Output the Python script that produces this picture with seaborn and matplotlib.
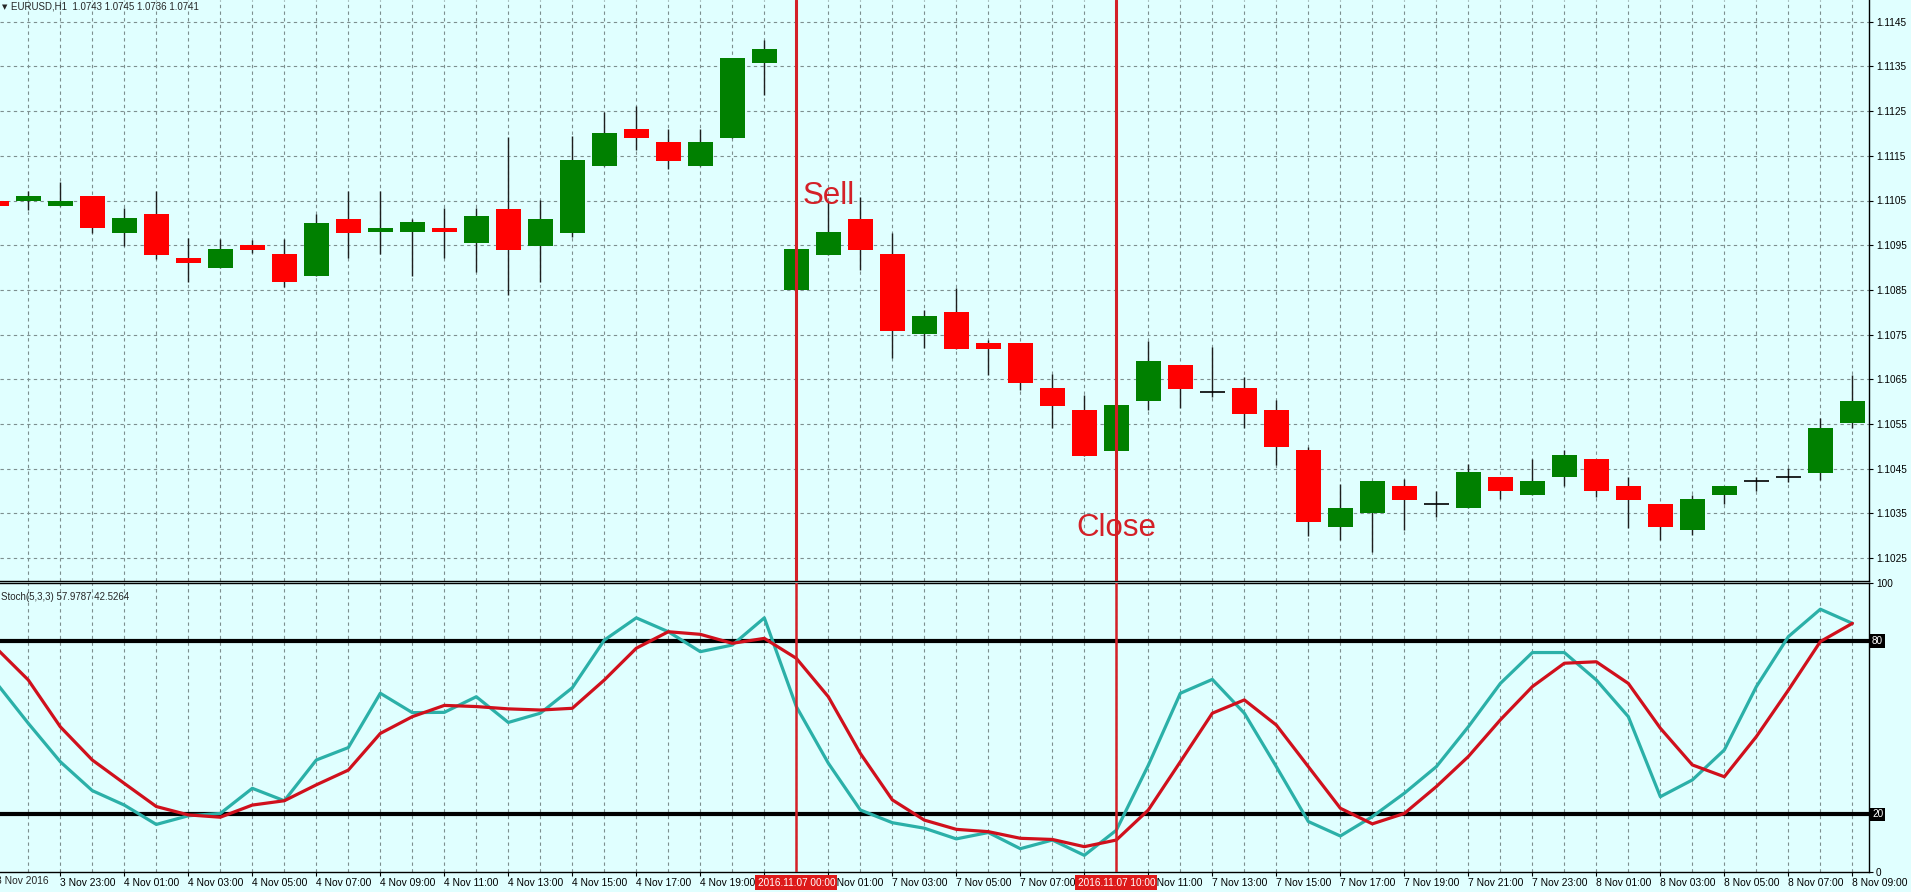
import numpy as np
import pandas as pd
import matplotlib
matplotlib.use("Agg")
import matplotlib.pyplot as plt
import matplotlib.transforms as mtransforms
from matplotlib.ticker import MultipleLocator
import seaborn as sns

# bar index: 0 = 3 Nov 23:00, 22 = 4 Nov 21:00, 23 = 7 Nov 00:00, 56 = 8 Nov 09:00
bars = list(range(-2, 57))

opens = [1.11050, 1.11050, 1.11038, 1.11060, 1.10978, 1.11020, 1.10921, 1.10900, 1.10950, 1.10930,
         1.10880, 1.11009, 1.10979, 1.10979, 1.10989, 1.10955, 1.11031, 1.10949, 1.10978, 1.11128,
         1.11210, 1.11180, 1.11128, 1.11189, 1.11358, 1.10850, 1.10928, 1.11009, 1.10930, 1.10751,
         1.10801, 1.10732, 1.10731, 1.10630, 1.10581, 1.10490, 1.10601, 1.10682, 1.10621, 1.10630,
         1.10581, 1.10491, 1.10320, 1.10350, 1.10411, 1.10371, 1.10361, 1.10432, 1.10391, 1.10431,
         1.10472, 1.10411, 1.10371, 1.10312, 1.10391, 1.10422, 1.10431, 1.10441, 1.10552]
highs = [1.11055, 1.11072, 1.11091, 1.11060, 1.11034, 1.11072, 1.10965, 1.10963, 1.10962, 1.10963,
         1.11020, 1.11072, 1.11072, 1.11009, 1.11033, 1.11033, 1.11191, 1.11051, 1.11194, 1.11249,
         1.11261, 1.11211, 1.11210, 1.11368, 1.11409, 1.10945, 1.11047, 1.11058, 1.10977, 1.10805,
         1.10854, 1.10738, 1.10731, 1.10661, 1.10615, 1.10592, 1.10736, 1.10682, 1.10723, 1.10656,
         1.10604, 1.10499, 1.10416, 1.10422, 1.10426, 1.10401, 1.10461, 1.10432, 1.10471, 1.10492,
         1.10472, 1.10431, 1.10371, 1.10391, 1.10411, 1.10431, 1.10451, 1.10563, 1.10660]
lows = [1.11035, 1.11029, 1.11038, 1.10978, 1.10948, 1.10919, 1.10867, 1.10900, 1.10932, 1.10856,
        1.10880, 1.10921, 1.10930, 1.10880, 1.10921, 1.10890, 1.10838, 1.10867, 1.10969, 1.11128,
        1.11163, 1.11120, 1.11128, 1.11189, 1.11286, 1.10848, 1.10928, 1.10894, 1.10697, 1.10719,
        1.10718, 1.10660, 1.10626, 1.10540, 1.10479, 1.10490, 1.10581, 1.10585, 1.10610, 1.10540,
        1.10458, 1.10299, 1.10290, 1.10264, 1.10313, 1.10341, 1.10361, 1.10382, 1.10391, 1.10411,
        1.10387, 1.10317, 1.10290, 1.10301, 1.10371, 1.10401, 1.10421, 1.10425, 1.10541]
closes = [1.11038, 1.11060, 1.11050, 1.10989, 1.11010, 1.10928, 1.10910, 1.10941, 1.10939, 1.10868,
          1.11000, 1.10978, 1.10989, 1.11001, 1.10979, 1.11015, 1.10939, 1.11009, 1.11141, 1.11200,
          1.11189, 1.11139, 1.11180, 1.11368, 1.11389, 1.10941, 1.10980, 1.10939, 1.10759, 1.10792,
          1.10718, 1.10718, 1.10641, 1.10591, 1.10479, 1.10592, 1.10691, 1.10629, 1.10621, 1.10572,
          1.10499, 1.10330, 1.10361, 1.10422, 1.10381, 1.10371, 1.10442, 1.10401, 1.10422, 1.10481,
          1.10401, 1.10381, 1.10320, 1.10382, 1.10411, 1.10422, 1.10431, 1.10541, 1.10601]

stoch_main = [65.5, 51.5, 38.2, 28.2, 23.2, 16.5, 19.5, 20.3, 29.0, 24.7,
              38.8, 43.1, 61.9, 55.2, 55.3, 60.7, 51.8, 55.0, 63.8, 80.3,
              88.0, 83.2, 76.3, 78.6, 88.0, 57.3, 37.7, 21.5, 17.1, 15.2,
              11.5, 13.7, 8.1, 11.1, 5.8, 14.5, 37.0, 61.9, 66.7, 55.0,
              36.5, 17.5, 12.5, 19.2, 27.3, 36.5, 50.3, 65.3, 76.0, 76.0,
              66.5, 53.8, 26.1, 31.9, 42.3, 64.2, 81.5, 91.0, 86.1]
stoch_signal = [77.5, 66.5, 50.3, 38.8, 30.7, 22.7, 19.8, 19.0, 23.2, 24.7,
                30.2, 35.3, 48.0, 53.8, 57.7, 57.3, 56.5, 56.1, 56.7, 66.5,
                77.5, 83.2, 82.3, 79.2, 80.9, 74.0, 60.7, 41.1, 25.0, 18.0,
                14.8, 14.0, 11.7, 11.3, 8.8, 11.1, 21.5, 38.2, 55.0, 59.6,
                50.9, 36.5, 22.1, 16.7, 20.3, 29.6, 40.0, 52.7, 64.2, 72.3,
                72.8, 65.3, 49.8, 37.1, 33.0, 46.9, 63.0, 79.8, 86.1]

price_ticks = [1.1025, 1.1035, 1.1045, 1.1055, 1.1065, 1.1075, 1.1085,
               1.1095, 1.1105, 1.1115, 1.1125, 1.1135, 1.1145]

# labels hidden under the red date boxes are left blank
time_tick_pos = [0, 2, 4, 6, 8, 10, 12, 14, 16, 18, 20, 22, 24, 26, 28,
                 30, 32, 34, 36, 38, 40, 42, 44, 46, 48, 50, 52, 54, 56]
time_tick_labels = ['3 Nov 23:00', '4 Nov 01:00', '4 Nov 03:00', '4 Nov 05:00', '4 Nov 07:00',
                    '4 Nov 09:00', '4 Nov 11:00', '4 Nov 13:00', '4 Nov 15:00', '4 Nov 17:00',
                    '4 Nov 19:00', '', '7 Nov 01:00', '7 Nov 03:00', '7 Nov 05:00',
                    '7 Nov 07:00', '', '7 Nov 11:00', '7 Nov 13:00', '7 Nov 15:00',
                    '7 Nov 17:00', '7 Nov 19:00', '7 Nov 21:00', '7 Nov 23:00', '8 Nov 01:00',
                    '8 Nov 03:00', '8 Nov 05:00', '8 Nov 07:00', '8 Nov 09:00']

sell_bar, close_bar = 23, 33
sell_label, close_label = '2016.11.07 00:00', '2016.11.07 10:00'

BG = '#e0ffff'
GRID = '#7d8f8f'
BULL = '#008000'
BEAR = '#ff0000'
TEAL = '#2bb0a8'
SIGRED = '#d0101c'
MARK = '#d42027'

sns.set_theme(style='white', rc={'axes.facecolor': BG, 'figure.facecolor': BG})
plt.rcParams['font.family'] = ['Liberation Sans', 'DejaVu Sans']

W, H = 1911, 892
fig = plt.figure(figsize=(W / 100, H / 100), dpi=100)
ax = fig.add_axes([0, (H - 581) / H, 1869 / W, 581 / H])
ax_s = fig.add_axes([0, (H - 872.1) / H, 1869 / W, (872.1 - 583.2) / H])

xlim = (-1.884, 56.52)

# ---- price panel ----
df = pd.DataFrame({'bar': bars, 'open': opens, 'high': highs, 'low': lows, 'close': closes})
doji = df['open'] == df['close']
colors = np.where(df['close'] > df['open'], BULL, BEAR)

ax.vlines(df['bar'], df['low'], df['high'], color='#1e1e1e', lw=1.0, zorder=2)
body = df[~doji]
ax.bar(body['bar'], (body['close'] - body['open']).abs(),
       bottom=body[['open', 'close']].min(axis=1), width=0.78,
       color=colors[~doji.values], linewidth=0, zorder=3)
dj = df[doji]
ax.hlines(dj['open'], dj['bar'] - 0.39, dj['bar'] + 0.39, color='black', lw=1.2, zorder=3)

ax.set_xlim(*xlim)
ax.set_ylim(1.1145 - (581 - 21.7) / 44700, 1.1145 + 21.7 / 44700)
ax.xaxis.set_major_locator(MultipleLocator(1))
ax.tick_params(axis='x', length=0, labelbottom=False)
ax.yaxis.tick_right()
ax.set_yticks(price_ticks)
ax.set_yticklabels([f'{p:.4f}' for p in price_ticks])
ax.tick_params(axis='y', right=True, length=3, width=0.8, pad=2, labelsize=7.2, colors='black')
ax.grid(True, axis='both', ls=(0, (3, 3)), color=GRID, lw=0.8)
ax.set_axisbelow(True)
for s in ['top', 'left']:
    ax.spines[s].set_visible(False)
for s in ['right', 'bottom']:
    ax.spines[s].set_color('black')
    ax.spines[s].set_linewidth(1.0)

for b in (sell_bar, close_bar):
    ax.axvline(b, color=MARK, lw=2.2, zorder=5)
    ax_s.axvline(b, color=MARK, lw=1.8, zorder=5)

ax.text(23.21, 1.110422, 'Sell', color=MARK, fontsize=22.5, ha='left', va='baseline', zorder=6)
ax.text(31.74, 1.103004, 'Close', color=MARK, fontsize=22.5, ha='left', va='baseline', zorder=6)

# ---- stochastic panel ----
sdf = pd.DataFrame({'bar': bars, 'main': stoch_main, 'signal': stoch_signal})
ax_s.axhline(80, color='black', lw=3, zorder=3)
ax_s.axhline(20, color='black', lw=3, zorder=3)
sns.lineplot(data=sdf, x='bar', y='main', color=TEAL, lw=2.3, ax=ax_s, zorder=4)
sns.lineplot(data=sdf, x='bar', y='signal', color=SIGRED, lw=2.3, ax=ax_s, zorder=4)
ax_s.set_xlabel('')
ax_s.set_ylabel('')
ax_s.set_xlim(*xlim)
ax_s.set_ylim(0, 100)
ax_s.set_xticks(time_tick_pos)
ax_s.set_xticklabels(time_tick_labels, ha='left', fontsize=7.4)
ax_s.xaxis.set_minor_locator(MultipleLocator(1))
ax_s.tick_params(axis='x', which='major', bottom=True, length=3, width=0.8, pad=1.5, colors='black')
ax_s.tick_params(axis='x', which='minor', bottom=False, length=0)
ax_s.grid(True, axis='x', which='both', ls=(0, (3, 3)), color=GRID, lw=0.8)
ax_s.set_axisbelow(True)
ax_s.yaxis.tick_right()
ax_s.set_yticks([0, 20, 80, 100])
ax_s.set_yticklabels(['0', '', '', '100'])
ax_s.tick_params(axis='y', right=True, length=3, width=0.8, pad=2, labelsize=7.2, colors='black')
ax_s.spines['left'].set_visible(False)
for s in ['top', 'right', 'bottom']:
    ax_s.spines[s].set_color('black')
    ax_s.spines[s].set_linewidth(1.0)

ytr = mtransforms.blended_transform_factory(ax_s.transAxes, ax_s.transData)
for lvl in (80, 20):
    ax_s.text(1.0 + 3 / 1869, lvl, str(lvl), transform=ytr, color='white', fontsize=7.2,
              ha='left', va='center', clip_on=False, zorder=10,
              bbox=dict(facecolor='black', edgecolor='none', pad=1.2))

xtr = mtransforms.blended_transform_factory(ax_s.transData, ax_s.transAxes)
ax_s.text(-2.02, -0.012, '3 Nov 2016', transform=xtr, fontsize=7.4, ha='left', va='top',
          clip_on=False)
for b, lab in ((sell_bar, sell_label), (close_bar, close_label)):
    ax_s.text(b, -0.036, lab, transform=xtr, fontsize=7.2, color='white', ha='center',
              va='center', clip_on=False, zorder=12,
              bbox=dict(facecolor='#dd1a1a', edgecolor='none', pad=1.6))

ax_s.text(0.0005, 0.97, 'Stoch(5,3,3) 57.9787 42.5264', transform=ax_s.transAxes,
          fontsize=7, ha='left', va='top', zorder=10)

fig.text(2 / W, 1 - 6.7 / H, '\u25bc', fontsize=5, ha='left', va='center',
         family='DejaVu Sans')
fig.text(11 / W, 1 - 6.7 / H, 'EURUSD,H1  1.0743 1.0745 1.0736 1.0741', fontsize=7,
         ha='left', va='center')

fig.savefig('out.png', dpi=100, facecolor=BG)
